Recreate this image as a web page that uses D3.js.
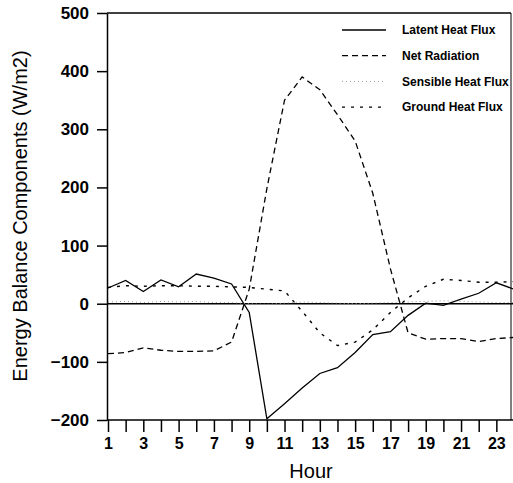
<!DOCTYPE html>
<html>
<head>
<meta charset="utf-8">
<script src="https://cdn.jsdelivr.net/npm/d3@7"></script>
<style>
  body { margin: 0; background: #fff; }
  svg { display: block; font-family: "Liberation Sans", Arial, sans-serif; }
  .axis path, .axis line { stroke: #000; stroke-width: 1.5; }
  .axis text { font-size: 16px; font-weight: bold; fill: #000; }
  .y.axis text { font-size: 17px; }
</style>
</head>
<body>
<svg id="chart" width="513" height="483"></svg>
<script>
// values (W/m2 by hour)
const hours = [1, 2, 3, 4, 5, 6, 7, 8, 9, 10, 11, 12, 13, 14, 15, 16, 17, 18, 19, 20, 21, 22, 23, 24];
const latentHeatFlux = [27, 40, 21, 41, 29, 51, 44, 34, -15, -198, -172, -145, -120, -110, -84, -53, -48, -20, 1, -3, 8, 18, 36, 25];
const netRadiation = [-86, -84, -76, -80, -82, -82, -81, -66, 25, 198, 350, 390, 368, 325, 280, 190, 60, -50, -61, -60, -60, -65, -60, -58];
const sensibleHeatFlux = [3, 4, 2, 4, 3, 4, 2, 2, 0, -1, 1, 3, 2, 1, 0, 1, 2, 3, 4, 5, 4, 3, 2, 2];
const groundHeatFlux = [28, 31, 30, 31, 31, 30, 30, 29, 28, 25, 22, -13, -50, -72, -66, -45, -15, 10, 30, 42, 40, 37, 37, 38];
const yTicks = [-200, -100, 0, 100, 200, 300, 400, 500];
const xTickLabels = [1, 3, 5, 7, 9, 11, 13, 15, 17, 19, 21, 23];

const series = [
  { name: "Latent Heat Flux", values: latentHeatFlux, dash: null, color: "#000", width: 1.3 },
  { name: "Net Radiation", values: netRadiation, dash: "6,4", color: "#000", width: 1.3 },
  { name: "Sensible Heat Flux", values: sensibleHeatFlux, dash: "1,3", color: "#999", width: 1 },
  { name: "Ground Heat Flux", values: groundHeatFlux, dash: "3,6", color: "#000", width: 1.4 }
];

const svg = d3.select("#chart");
const plotLeft = 107, plotTop = 13, plotRight = 511, plotBottom = 420;

const xScale = d3.scaleLinear().domain([1, 24]).range([108, 514]);
const yScale = d3.scaleLinear().domain([-200, 500]).range([plotBottom, plotTop]);

// frame (top and right edges)
svg.append("line")
  .attr("x1", plotLeft).attr("x2", plotRight).attr("y1", plotTop).attr("y2", plotTop)
  .attr("stroke", "#000").attr("stroke-width", 1.5);
svg.append("line")
  .attr("x1", plotRight).attr("x2", plotRight).attr("y1", plotTop).attr("y2", plotBottom)
  .attr("stroke", "#000").attr("stroke-width", 1);

// zero line
svg.append("line")
  .attr("x1", plotLeft).attr("x2", 513).attr("y1", yScale(0)).attr("y2", yScale(0))
  .attr("stroke", "#000").attr("stroke-width", 1.5);

const xAxis = svg.append("g")
  .attr("class", "x axis")
  .attr("transform", "translate(0," + plotBottom + ")")
  .call(d3.axisBottom(xScale)
    .tickValues(hours)
    .tickSize(12)
    .tickSizeOuter(0)
    .tickPadding(6)
    .tickFormat(d => xTickLabels.includes(d) ? d : ""));
xAxis.select(".domain").attr("d", "M" + plotLeft + ",0H513");
xAxis.selectAll(".tick line").attr("stroke-width", 1.2);

const yAxis = svg.append("g")
  .attr("class", "y axis")
  .attr("transform", "translate(" + plotLeft + ",0)")
  .call(d3.axisLeft(yScale)
    .tickValues(yTicks)
    .tickSize(10)
    .tickSizeOuter(0)
    .tickPadding(8));

// axis titles
svg.append("text")
  .attr("x", 311).attr("y", 478)
  .attr("text-anchor", "middle")
  .style("font-size", "20px")
  .text("Hour");

svg.append("text")
  .attr("transform", "translate(27,216) rotate(-90)")
  .attr("text-anchor", "middle")
  .style("font-size", "20px")
  .text("Energy Balance Components (W/m2)");

const line = d3.line()
  .x((d, i) => xScale(hours[i]))
  .y(d => yScale(d));

svg.selectAll(".series")
  .data(series)
  .join("path")
  .attr("class", "series")
  .attr("fill", "none")
  .attr("stroke", d => d.color)
  .attr("stroke-width", d => d.width)
  .attr("stroke-dasharray", d => d.dash)
  .attr("d", d => line(d.values));

// legend
const legend = svg.append("g");
const legendItems = legend.selectAll("g")
  .data(series)
  .join("g")
  .attr("transform", (d, i) => "translate(0," + (30 + i * 25.7) + ")");

legendItems.append("line")
  .attr("x1", 342).attr("x2", 386)
  .attr("stroke", d => d.color)
  .attr("stroke-width", d => d.width)
  .attr("stroke-dasharray", d => d.dash);

legendItems.append("text")
  .attr("x", 402).attr("dy", "0.35em")
  .style("font-size", "12px")
  .style("font-weight", "bold")
  .text(d => d.name);
</script>
</body>
</html>
